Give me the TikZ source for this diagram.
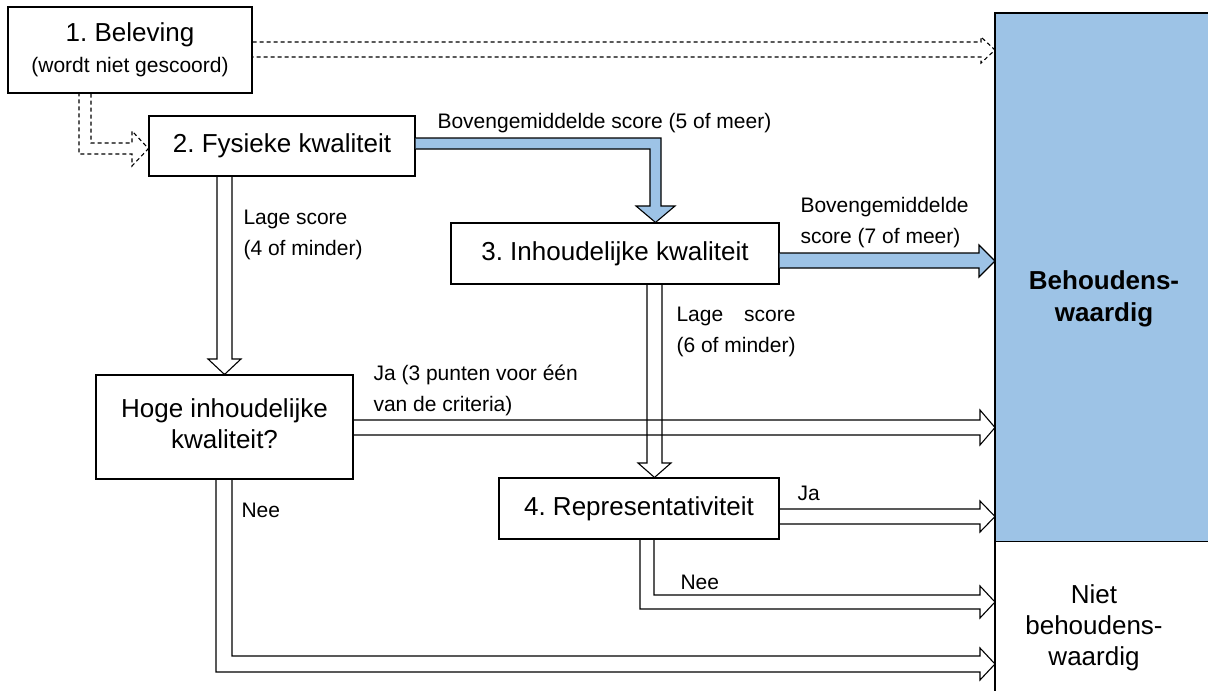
\documentclass[tikz,border=0pt]{standalone}
\usepackage{fontspec}
\setmainfont{Liberation Sans}
\usetikzlibrary{positioning}
\definecolor{keepblue}{RGB}{157,195,230}
\tikzset{every picture/.style={line width=1.1pt}}
\frenchspacing

\begin{document}
\begin{tikzpicture}[x=1pt, y=-1pt,
    box/.style={draw, inner sep=0pt, align=center, font=\fontsize{26}{31}\selectfont},
    lbl/.style={inner sep=0pt, anchor=base west, align=left, font=\fontsize{21}{31}\selectfont},
    hollow/.style={draw, line join=miter},
    dashedarrow/.style={draw, dash pattern=on 4pt off 3pt, line join=miter},
    bluearrow/.style={draw, fill=keepblue, line join=miter}]
  \useasboundingbox (0,0) rectangle (1208,691);

  % result panel
  \node[fill=keepblue, inner sep=0pt, minimum width=213, minimum height=527, anchor=north west] (keep) at (995,13) {};
  \coordinate (bottom) at (995,691);
  \draw (keep.north east) -- (keep.north west) -- (keep.south west) -- (keep.south east);
  \draw (keep.south west) -- (bottom);
  \node[font=\bfseries\fontsize{26}{32}\selectfont, align=center] (keeptxt) at (1104,299) {Behoudens-\\waardig};
  \node[font=\fontsize{26}{31}\selectfont, align=center] (droptxt) at (1094,628) {Niet\\behoudens-\\waardig};

  % steps
  \node[box, minimum width=244, minimum height=86, font=\fontsize{21}{31}\selectfont] (beleving) at (130,50)
    {{\fontsize{26}{31}\selectfont 1. Beleving}\\(wordt niet gescoord)};
  \node[box, minimum width=266, minimum height=60] (fysiek) at (282,146) {2. Fysieke kwaliteit};
  \node[box, minimum width=328, minimum height=61] (inhoud) at (615,253.5) {3. Inhoudelijke kwaliteit};
  \node[box, minimum width=257, minimum height=104, text depth=6] (hoge) at (224.5,427) {Hoge inhoudelijke\\kwaliteit?};
  \node[box, minimum width=280, minimum height=61] (repr) at (639,508.5) {4. Representativiteit};

  % dashed arrows from beleving
  \draw[dashedarrow] (beleving.east |- 0,42) -- (981,42) -- (981,37) -- (keep.west |- 0,50)
    -- (981,63) -- (981,57) -- (beleving.east |- 0,57);
  \draw[dashedarrow] (beleving.south -| 91,0) -- (91,143) -- (132,143) -- (132,131) -- (fysiek.west |- 0,148.5)
    -- (132,166) -- (132,154) -- (79,154) -- (beleving.south -| 79,0);

  % high scores
  \draw[bluearrow] (fysiek.east |- 0,138) -- (661,138) -- (661,206) -- (675,206) -- (inhoud.north -| 655.5,0)
    -- (636,206) -- (650,206) -- (650,149) -- (fysiek.east |- 0,149);
  \draw[bluearrow] (inhoud.east |- 0,253) -- (979,253) -- (979,245) -- (keep.west |- 0,261)
    -- (979,277) -- (979,268) -- (inhoud.east |- 0,268);

  % low scores
  \draw[hollow] (fysiek.south -| 217,0) -- (217,359) -- (208,359) -- (hoge.north -| 224.5,0)
    -- (241,359) -- (232,359) -- (fysiek.south -| 232,0);
  \draw[hollow] (inhoud.south -| 647,0) -- (647,463) -- (638,463) -- (repr.north -| 654.5,0)
    -- (671,463) -- (662,463) -- (inhoud.south -| 662,0);

  % ja
  \draw[hollow] (hoge.east |- 0,420) -- (980,420) -- (980,410) -- (keep.west |- 0,427.5)
    -- (980,445) -- (980,435) -- (hoge.east |- 0,435);
  \draw[hollow] (repr.east |- 0,509) -- (980,509) -- (980,501) -- (keep.west |- 0,516.5)
    -- (980,532) -- (980,524) -- (repr.east |- 0,524);

  % nee
  \draw[hollow] (repr.south -| 654,0) -- (654,595) -- (980,595) -- (980,586) -- (keep.west |- 0,602)
    -- (980,618) -- (980,609) -- (640,609) -- (repr.south -| 640,0);
  \draw[hollow] (hoge.south -| 232,0) -- (232,656) -- (980,656) -- (980,648) -- (keep.west |- 0,664)
    -- (980,680) -- (980,672) -- (216,672) -- (hoge.south -| 216,0);

  % labels
  \node[lbl] (lblfive) at (437,128) {Bovengemiddelde score (5 of meer)};
  \node[lbl] (lblseven) at (800,243) {Bovengemiddelde\\score (7 of meer)};
  \node[lbl] (lbllowfys) at (243,255) {Lage score\\(4 of minder)};
  \node[lbl] (lbllowinh) at (676,321) {\begin{tabular}[t]{@{}l@{}}Lage\hfill score\\(6 of minder)\end{tabular}};
  \node[lbl] (lblhogeja) at (373,411) {Ja (3 punten voor één\\van de criteria)};
  \node[lbl] (lblhogenee) at (241,517) {Nee};
  \node[lbl] (lblreprja) at (797,500) {Ja};
  \node[lbl] (lblreprnee) at (680,589) {Nee};
\end{tikzpicture}
\end{document}
